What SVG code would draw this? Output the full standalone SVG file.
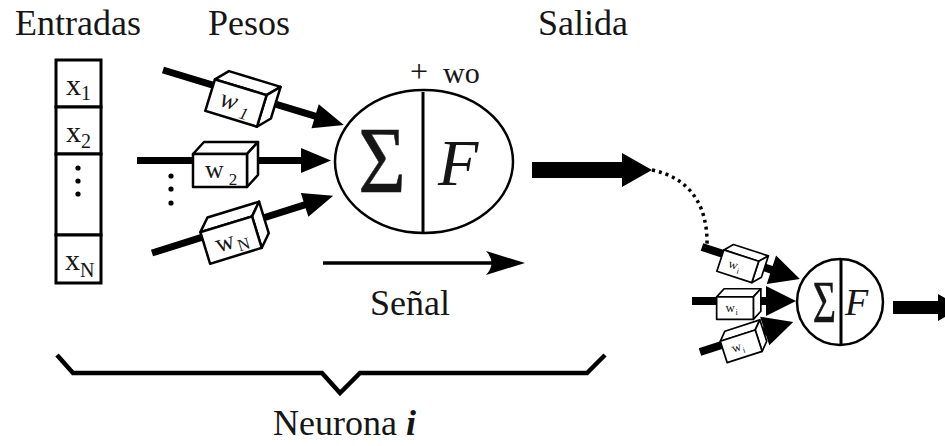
<svg xmlns="http://www.w3.org/2000/svg" xmlns:xlink="http://www.w3.org/1999/xlink" width="945" height="446" viewBox="0 0 945 446">
  <style>
    .t { font-family: "Liberation Serif", "Times New Roman", serif; fill: #161616; }
    .lbl { font-size: 36px; }
    .sig { stroke: #161616; stroke-width: 0.5; }
    .cell { fill: #fff; stroke: #000; stroke-width: 3; }
    .face { fill: #fff; stroke: #000; stroke-width: 2.5; stroke-linejoin: round; }
    .ring { fill: #fff; stroke: #000; stroke-width: 2.5; }
    .div { stroke: #000; stroke-width: 3; }
    .arw { fill: #000; }
    .dot { fill: #000; }
  </style>
  <defs>
    <!-- 3D weight block, drawn around the point where the input line crosses it -->
    <g id="cube">
      <path class="face" d="M-27,-6 L-16,-18 L38,-18 L27,-6 Z"/>
      <path class="face" d="M27,-6 L38,-18 L38,15 L27,27 Z"/>
      <rect class="face" x="-27" y="-6" width="54" height="33"/>
    </g>
  </defs>
  <rect width="945" height="446" fill="#fff"/>

  <!-- headings -->
  <g id="headings" class="t lbl">
    <text x="15" y="35">Entradas</text>
    <text x="208" y="35">Pesos</text>
    <text x="538" y="35">Salida</text>
  </g>

  <!-- connectors -->
  <g id="connectors">
    <!-- weighted inputs into neuron i -->
    <path class="arw" transform="translate(163,70) rotate(16.9)" d="M0,-3.5 L159,-3.5 L159,-12.5 L189,0 L159,12.5 L159,3.5 L0,3.5 Z"/>
    <path class="arw" transform="translate(137,160.5)" d="M0,-3.5 L164,-3.5 L164,-12.5 L194,0 L164,12.5 L164,3.5 L0,3.5 Z"/>
    <path class="arw" transform="translate(152,253) rotate(-17.5)" d="M0,-3.5 L160,-3.5 L160,-12.5 L190,0 L160,12.5 L160,3.5 L0,3.5 Z"/>
    <!-- output of neuron i -->
    <path class="arw" d="M532,162 L622,162 L622,153 L652,170 L622,187 L622,178 L532,178 Z"/>
    <!-- link to the next neuron -->
    <path d="M652,170 C690,178 708,205 707,246" fill="none" stroke="#000" stroke-width="3.5" stroke-dasharray="3 4"/>
    <!-- signal direction -->
    <line x1="323" y1="263" x2="505" y2="263" stroke="#000" stroke-width="3.5"/>
    <path class="arw" d="M525,263 L486,251 Q497,263 486,275 Z"/>
    <!-- inputs into the next neuron -->
    <path class="arw" transform="translate(702,247) rotate(18.1)" d="M0,-4 L73,-4 L73,-15 L103,0 L73,15 L73,4 L0,4 Z"/>
    <path class="arw" transform="translate(692,301)" d="M0,-4 L74,-4 L74,-15 L104,0 L74,15 L74,4 L0,4 Z"/>
    <path class="arw" transform="translate(700,352) rotate(-17.9)" d="M0,-4 L68,-4 L68,-15 L98,0 L68,15 L68,4 L0,4 Z"/>
    <!-- output of the next neuron -->
    <path class="arw" d="M893,301 L938,301 L938,294 L962,307.5 L938,321 L938,314 L893,314 Z"/>
  </g>

  <!-- input vector -->
  <g id="inputs">
    <rect class="cell" x="56" y="60" width="45" height="47"/>
    <rect class="cell" x="56" y="107" width="45" height="47"/>
    <rect class="cell" x="56" y="154" width="45" height="81"/>
    <rect class="cell" x="56" y="235" width="45" height="48"/>
    <text class="t" x="66" y="95" font-size="30">x<tspan font-size="20" dy="5">1</tspan></text>
    <text class="t" x="66" y="142" font-size="30">x<tspan font-size="20" dy="6">2</tspan></text>
    <circle class="dot" cx="78" cy="168" r="2.6"/>
    <circle class="dot" cx="78" cy="181" r="2.6"/>
    <circle class="dot" cx="78" cy="194" r="2.6"/>
    <text class="t" x="65" y="270" font-size="30">x<tspan font-size="20" dy="7">N</tspan></text>
  </g>

  <!-- weights of neuron i -->
  <g id="w1" transform="translate(239,93) rotate(17)">
    <use xlink:href="#cube"/>
    <text class="t" x="-16" y="18" font-size="26" font-style="italic">w<tspan font-size="17" dx="5" dy="6">1</tspan></text>
  </g>
  <g id="w2" transform="translate(220,160)">
    <use xlink:href="#cube"/>
    <text class="t" x="-15" y="18" font-size="26">w<tspan font-size="17" dx="5" dy="7">2</tspan></text>
  </g>
  <g id="wN" transform="translate(228,230) rotate(-17)">
    <use xlink:href="#cube"/>
    <text class="t" x="-16" y="19" font-size="26">w<tspan font-size="17" dx="2" dy="5">N</tspan></text>
  </g>
  <g id="more-weights">
    <circle class="dot" cx="171" cy="176" r="2.6"/>
    <circle class="dot" cx="171" cy="189" r="2.6"/>
    <circle class="dot" cx="171" cy="203" r="2.6"/>
  </g>

  <!-- neuron i: summation and activation -->
  <g id="neuron">
    <ellipse class="ring" cx="424" cy="161.5" rx="89" ry="71.5"/>
    <line class="div" x1="423" y1="92" x2="423" y2="232"/>
    <text class="t sig" transform="translate(382,193) scale(0.86,1)" font-size="95" text-anchor="middle">Σ</text>
    <text class="t" x="438" y="185" font-size="66" font-style="italic">F</text>
    <text class="t" x="410" y="82" font-size="32">+</text>
    <text class="t" x="443" y="83" font-size="30">wo</text>
  </g>

  <!-- weights of the next neuron -->
  <g id="v1" transform="translate(740,259.5) rotate(18.1) scale(0.68)">
    <use xlink:href="#cube"/>
    <text class="t" x="-14" y="16" font-size="19">w<tspan font-size="12" dx="1" dy="5">i</tspan></text>
  </g>
  <g id="v2" transform="translate(735,301) scale(0.68)">
    <use xlink:href="#cube"/>
    <text class="t" x="-14" y="16" font-size="19">w<tspan font-size="12" dx="1" dy="5">i</tspan></text>
  </g>
  <g id="v3" transform="translate(739,339.5) rotate(-17.9) scale(0.68)">
    <use xlink:href="#cube"/>
    <text class="t" x="-14" y="16" font-size="19">w<tspan font-size="12" dx="1" dy="5">i</tspan></text>
  </g>

  <!-- next neuron -->
  <g id="neuron2">
    <circle class="ring" cx="840" cy="302" r="43"/>
    <line class="div" x1="841" y1="259" x2="841" y2="345"/>
    <text class="t sig" transform="translate(824.5,322) scale(0.68,1)" font-size="59" text-anchor="middle">Σ</text>
    <text class="t" x="845" y="315" font-size="38" font-style="italic">F</text>
  </g>

  <!-- signal label -->
  <g id="signal-label" class="t lbl">
    <text x="370" y="315">Señal</text>
  </g>

  <!-- brace spanning neuron i -->
  <g id="brace">
    <polyline points="57,355 73,373 322,373 340,393 360,373 587,373 605,355" fill="none" stroke="#000" stroke-width="4.5"/>
    <text class="t lbl" x="273" y="435">Neurona <tspan font-weight="bold" font-style="italic">i</tspan></text>
  </g>
</svg>
